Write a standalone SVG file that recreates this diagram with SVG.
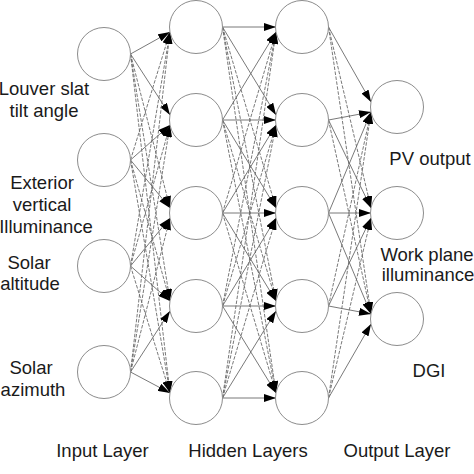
<svg xmlns="http://www.w3.org/2000/svg" width="474" height="474" viewBox="0 0 474 474">
<defs>
<marker id="ah" markerUnits="userSpaceOnUse" markerWidth="12" markerHeight="8" refX="12" refY="4" orient="auto">
<path d="M0,0 L12,4 L0,8 z" fill="#000"/>
</marker>
<style>
.node{fill:#fff;stroke:#8c8c8c;stroke-width:1}
.c line{stroke:#6a6a6a;stroke-width:0.9;fill:none;marker-end:url(#ah)}
.c line.d{stroke-dasharray:3.5 1.5}
text{font-family:"Liberation Sans",Arial,sans-serif;font-size:18.5px;fill:#1a1a1a;text-anchor:middle}
</style>
</defs>
<rect width="474" height="474" fill="#fff"/>
<g id="connectors" class="c">
<!-- input -> hidden1 -->
<line x1="130.5" y1="54" x2="170" y2="32"/>
<line x1="130.5" y1="54" x2="170" y2="115"/>
<line class="d" x1="130.5" y1="54" x2="170" y2="208"/>
<line class="d" x1="130.5" y1="54" x2="170" y2="301"/>
<line class="d" x1="130.5" y1="54" x2="170" y2="393"/>
<line class="d" x1="130.5" y1="160" x2="170" y2="32"/>
<line x1="130.5" y1="160" x2="170" y2="125"/>
<line x1="130.5" y1="160" x2="170" y2="208"/>
<line class="d" x1="130.5" y1="160" x2="170" y2="301"/>
<line class="d" x1="130.5" y1="160" x2="170" y2="393"/>
<line class="d" x1="130.5" y1="266" x2="170" y2="32"/>
<line class="d" x1="130.5" y1="266" x2="170" y2="125"/>
<line x1="130.5" y1="266" x2="170" y2="218"/>
<line x1="130.5" y1="266" x2="170" y2="301"/>
<line class="d" x1="130.5" y1="266" x2="170" y2="393"/>
<line class="d" x1="130.5" y1="372" x2="170" y2="32"/>
<line class="d" x1="130.5" y1="372" x2="170" y2="125"/>
<line class="d" x1="130.5" y1="372" x2="170" y2="218"/>
<line x1="130.5" y1="372" x2="170" y2="311"/>
<line x1="130.5" y1="372" x2="170" y2="393"/>
<!-- hidden1 -> hidden2 -->
<line x1="222.5" y1="27" x2="276" y2="27"/>
<line x1="222.5" y1="27" x2="276" y2="115"/>
<line class="d" x1="222.5" y1="27" x2="276" y2="208"/>
<line class="d" x1="222.5" y1="27" x2="276" y2="301"/>
<line class="d" x1="222.5" y1="27" x2="276" y2="393"/>
<line x1="222.5" y1="120" x2="276" y2="32"/>
<line x1="222.5" y1="120" x2="276" y2="120"/>
<line x1="222.5" y1="120" x2="276" y2="208"/>
<line class="d" x1="222.5" y1="120" x2="276" y2="301"/>
<line class="d" x1="222.5" y1="120" x2="276" y2="393"/>
<line class="d" x1="222.5" y1="213" x2="276" y2="32"/>
<line x1="222.5" y1="213" x2="276" y2="125"/>
<line x1="222.5" y1="213" x2="276" y2="213"/>
<line x1="222.5" y1="213" x2="276" y2="301"/>
<line class="d" x1="222.5" y1="213" x2="276" y2="393"/>
<line class="d" x1="222.5" y1="306" x2="276" y2="32"/>
<line class="d" x1="222.5" y1="306" x2="276" y2="125"/>
<line x1="222.5" y1="306" x2="276" y2="218"/>
<line x1="222.5" y1="306" x2="276" y2="306"/>
<line x1="222.5" y1="306" x2="276" y2="393"/>
<line class="d" x1="222.5" y1="398" x2="276" y2="32"/>
<line class="d" x1="222.5" y1="398" x2="276" y2="125"/>
<line class="d" x1="222.5" y1="398" x2="276" y2="218"/>
<line x1="222.5" y1="398" x2="276" y2="311"/>
<line x1="222.5" y1="398" x2="276" y2="398"/>
<!-- hidden2 -> output -->
<line x1="328.5" y1="27" x2="371" y2="102"/>
<line class="d" x1="328.5" y1="27" x2="371" y2="208"/>
<line class="d" x1="328.5" y1="27" x2="371" y2="314"/>
<line x1="328.5" y1="120" x2="371" y2="112"/>
<line x1="328.5" y1="120" x2="371" y2="208"/>
<line class="d" x1="328.5" y1="120" x2="371" y2="314"/>
<line x1="328.5" y1="213" x2="371" y2="112"/>
<line x1="328.5" y1="213" x2="371" y2="213"/>
<line x1="328.5" y1="213" x2="371" y2="314"/>
<line class="d" x1="328.5" y1="306" x2="371" y2="112"/>
<line x1="328.5" y1="306" x2="371" y2="218"/>
<line x1="328.5" y1="306" x2="371" y2="314"/>
<line class="d" x1="328.5" y1="398" x2="371" y2="112"/>
<line class="d" x1="328.5" y1="398" x2="371" y2="218"/>
<line x1="328.5" y1="398" x2="371" y2="324"/>
</g>
<g id="input1"><circle class="node" cx="104" cy="54" r="26.5"/></g>
<g id="input2"><circle class="node" cx="104" cy="160" r="26.5"/></g>
<g id="input3"><circle class="node" cx="104" cy="266" r="26.5"/></g>
<g id="input4"><circle class="node" cx="104" cy="372" r="26.5"/></g>
<g id="h1n1"><circle class="node" cx="196" cy="27" r="26.5"/></g>
<g id="h1n2"><circle class="node" cx="196" cy="120" r="26.5"/></g>
<g id="h1n3"><circle class="node" cx="196" cy="213" r="26.5"/></g>
<g id="h1n4"><circle class="node" cx="196" cy="306" r="26.5"/></g>
<g id="h1n5"><circle class="node" cx="196" cy="398" r="26.5"/></g>
<g id="h2n1"><circle class="node" cx="302" cy="27" r="26.5"/></g>
<g id="h2n2"><circle class="node" cx="302" cy="120" r="26.5"/></g>
<g id="h2n3"><circle class="node" cx="302" cy="213" r="26.5"/></g>
<g id="h2n4"><circle class="node" cx="302" cy="306" r="26.5"/></g>
<g id="h2n5"><circle class="node" cx="302" cy="398" r="26.5"/></g>
<g id="out1"><circle class="node" cx="397" cy="107" r="26.5"/></g>
<g id="out2"><circle class="node" cx="397" cy="213" r="26.5"/></g>
<g id="out3"><circle class="node" cx="397" cy="319" r="26.5"/></g>
<g id="labels">
<text x="44" y="95">Louver slat</text>
<text x="44" y="117">tilt angle</text>
<text x="42" y="189">Exterior</text>
<text x="42" y="211">vertical</text>
<text x="46" y="233">Illuminance</text>
<text x="29" y="269">Solar</text>
<text x="30" y="290">altitude</text>
<text x="31" y="374">Solar</text>
<text x="33" y="396">azimuth</text>
<text x="430" y="165">PV output</text>
<text x="427" y="261">Work plane</text>
<text x="428" y="281">illuminance</text>
<text x="429" y="377">DGI</text>
<text x="102.5" y="457">Input Layer</text>
<text x="248" y="457">Hidden Layers</text>
<text x="397" y="457">Output Layer</text>
</g>
</svg>
